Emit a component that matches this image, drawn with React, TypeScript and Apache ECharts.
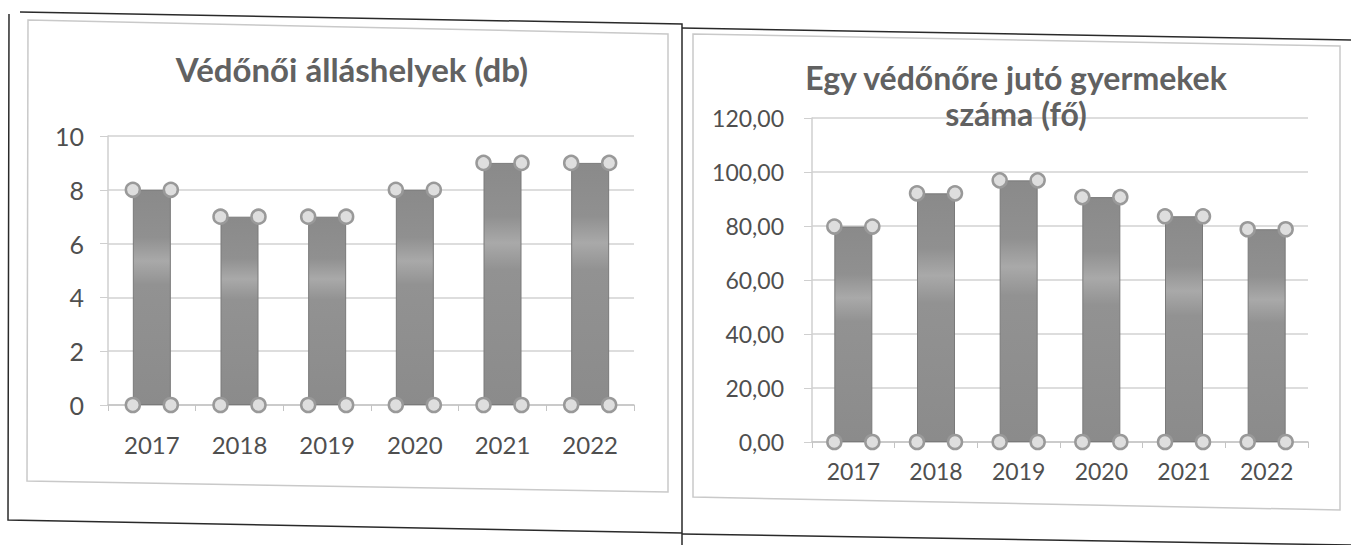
import React, { useEffect, useRef } from "react";
import * as echarts from "echarts";

const years = ["2017", "2018", "2019", "2020", "2021", "2022"];
const positions = [8, 7, 7, 8, 9, 9];
const childrenPerNurse = [79.8, 92.1, 96.9, 90.7, 83.6, 78.8];
const leftTicks = [0, 2, 4, 6, 8, 10];
const rightTicks = [0, 20, 40, 60, 80, 100, 120];

const leftTitle = "Védőnői álláshelyek (db)";
const rightTitle1 = "Egy védőnőre jutó gyermekek";
const rightTitle2 = "száma (fő)";

const FONT = "Lato, 'Open Sans', sans-serif";
const BAR_W = 38;

const barGradient = () =>
  new echarts.graphic.LinearGradient(0, 0, 0, 1, [
    { offset: 0, color: "#8a8a8a" },
    { offset: 0.22, color: "#909090" },
    { offset: 0.33, color: "#a9a9a9" },
    { offset: 0.44, color: "#929292" },
    { offset: 1, color: "#8b8b8b" },
  ]);

const handleSeries = (values: number[], axisIndex: number) => ({
  type: "custom",
  xAxisIndex: axisIndex,
  yAxisIndex: axisIndex,
  z: 5,
  silent: true,
  data: values.map((v, i) => [i, v]),
  renderItem: (params: any, api: any) => {
    const i = api.value(0);
    const v = api.value(1);
    const top = api.coord([i, v]);
    const bot = api.coord([i, 0]);
    const hw = BAR_W / 2;
    const pts = [
      [top[0] - hw, top[1]],
      [top[0] + hw, top[1]],
      [bot[0] - hw, bot[1]],
      [bot[0] + hw, bot[1]],
    ];
    return {
      type: "group",
      children: pts.map((p) => ({
        type: "circle",
        shape: { cx: p[0], cy: p[1], r: 7 },
        style: { fill: "#dedede", stroke: "#999999", lineWidth: 2.5 },
      })),
    };
  },
});

export default function App() {
  const ref = useRef<HTMLDivElement>(null);
  useEffect(() => {
    if (!ref.current) return;
    const chart = echarts.init(ref.current, undefined, { renderer: "svg" });
    const axisLabelStyle = { color: "#4f4f4f", fontFamily: FONT, fontSize: 24 };
    const titleStyle = {
      fontFamily: FONT,
      fontWeight: "bold",
      fill: "#616161",
      align: "center",
      verticalAlign: "middle",
    };
    chart.setOption({
      animation: false,
      backgroundColor: "#ffffff",
      grid: [
        { left: 108, top: 136, width: 526, height: 269 },
        { left: 812, top: 118, width: 496, height: 324 },
      ],
      xAxis: [
        {
          type: "category",
          gridIndex: 0,
          data: years,
          axisLine: { lineStyle: { color: "#c4c4c4", width: 1.5 } },
          axisTick: { show: true, length: 6, lineStyle: { color: "#c4c4c4" } },
          axisLabel: { ...axisLabelStyle, margin: 27 },
        },
        {
          type: "category",
          gridIndex: 1,
          data: years,
          axisLine: { lineStyle: { color: "#c4c4c4", width: 1.5 } },
          axisTick: { show: true, length: 6, lineStyle: { color: "#c4c4c4" } },
          axisLabel: { ...axisLabelStyle, fontSize: 23, margin: 17 },
        },
      ],
      yAxis: [
        {
          type: "value",
          gridIndex: 0,
          min: leftTicks[0],
          max: leftTicks[leftTicks.length - 1],
          interval: leftTicks[1] - leftTicks[0],
          axisLine: { show: true, lineStyle: { color: "#cfcfcf", width: 1.5 } },
          axisTick: { show: true, length: 8, lineStyle: { color: "#cfcfcf" } },
          splitLine: { lineStyle: { color: "#d2d2d2", width: 1.5 } },
          axisLabel: { ...axisLabelStyle, fontSize: 25, margin: 24 },
        },
        {
          type: "value",
          gridIndex: 1,
          min: rightTicks[0],
          max: rightTicks[rightTicks.length - 1],
          interval: rightTicks[1] - rightTicks[0],
          axisLine: { show: true, lineStyle: { color: "#cfcfcf", width: 1.5 } },
          axisTick: { show: true, length: 8, lineStyle: { color: "#cfcfcf" } },
          splitLine: { lineStyle: { color: "#d2d2d2", width: 1.5 } },
          axisLabel: {
            ...axisLabelStyle,
            fontSize: 23,
            margin: 28,
            formatter: (v: number) => v.toFixed(2).replace(".", ","),
          },
        },
      ],
      series: [
        {
          type: "bar",
          xAxisIndex: 0,
          yAxisIndex: 0,
          data: positions,
          barWidth: BAR_W,
          itemStyle: { color: barGradient(), borderColor: "#7a7a7a", borderWidth: 1 },
        },
        handleSeries(positions, 0),
        {
          type: "bar",
          xAxisIndex: 1,
          yAxisIndex: 1,
          data: childrenPerNurse,
          barWidth: BAR_W,
          itemStyle: { color: barGradient(), borderColor: "#7a7a7a", borderWidth: 1 },
        },
        handleSeries(childrenPerNurse, 1),
      ],
      graphic: [
        // outer scan borders
        {
          type: "polyline",
          shape: { points: [[20, 12], [682, 24], [682, 545]] },
          style: { stroke: "#2a2a2a", lineWidth: 1.5, fill: "none" },
        },
        {
          type: "polyline",
          shape: { points: [[9, 14], [8, 520], [682, 533]] },
          style: { stroke: "#2a2a2a", lineWidth: 1.5, fill: "none" },
        },
        {
          type: "polyline",
          shape: { points: [[682, 28], [1351, 40]] },
          style: { stroke: "#2a2a2a", lineWidth: 1.5, fill: "none" },
        },
        {
          type: "polyline",
          shape: { points: [[682, 534], [1351, 545]] },
          style: { stroke: "#2a2a2a", lineWidth: 1.5, fill: "none" },
        },
        // inner chart frames
        {
          type: "polygon",
          shape: { points: [[28, 20], [668, 34], [668, 492], [27, 481]] },
          style: { stroke: "#c9c9c9", lineWidth: 1.5, fill: "none" },
          z: -1,
        },
        {
          type: "polygon",
          shape: { points: [[693, 34], [1340, 46], [1340, 510], [693, 497]] },
          style: { stroke: "#c9c9c9", lineWidth: 1.5, fill: "none" },
          z: -1,
        },
        // titles
        {
          type: "text",
          x: 352,
          y: 69,
          style: { ...titleStyle, text: leftTitle, fontSize: 33 },
        },
        {
          type: "text",
          x: 1016,
          y: 77,
          style: { ...titleStyle, text: rightTitle1, fontSize: 32 },
        },
        {
          type: "text",
          x: 1016,
          y: 113,
          z: 10,
          style: { ...titleStyle, text: rightTitle2, fontSize: 32 },
        },
      ],
    });
    return () => chart.dispose();
  }, []);
  return (
    <div
      ref={ref}
      style={{ position: "fixed", left: 0, top: 0, width: 1351, height: 545 }}
    />
  );
}
